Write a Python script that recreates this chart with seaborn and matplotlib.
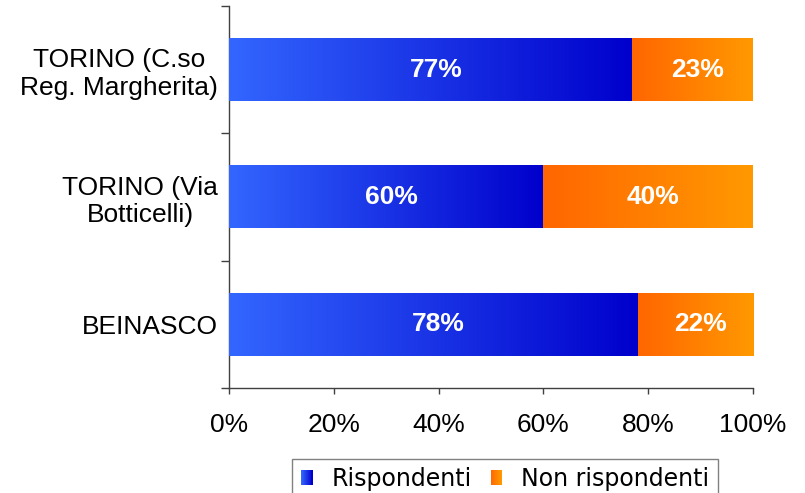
import numpy as np
import pandas as pd
import matplotlib
matplotlib.use("Agg")
import matplotlib.pyplot as plt
import seaborn as sns
from matplotlib.colors import LinearSegmentedColormap
from matplotlib.legend_handler import HandlerBase
from matplotlib.patches import Rectangle

# ---- data ----
luoghi = ["TORINO (C.so\nReg. Margherita)", "TORINO (Via\nBotticelli)", "BEINASCO"]
rispondenti = [77, 60, 78]
non_rispondenti = [23, 40, 22]
serie = ["Rispondenti", "Non rispondenti"]
xticks = [0, 20, 40, 60, 80, 100]
xticklabels = ["0%", "20%", "40%", "60%", "80%", "100%"]

# ---- styles ----
blue0, blue1 = "#3366FF", "#0000CC"
orange0, orange1 = "#FF6600", "#FF9900"
cmap_blue = LinearSegmentedColormap.from_list("b", [blue0, blue1])
cmap_orange = LinearSegmentedColormap.from_list("o", [orange0, orange1])

sns.set_theme(style="white")
plt.rcParams["font.family"] = ["Liberation Sans", "DejaVu Sans"]
plt.rcParams["text.color"] = "black"
plt.rcParams["xtick.labelcolor"] = "black"
plt.rcParams["ytick.labelcolor"] = "black"
FS = 19

df = pd.DataFrame({"luogo": luoghi, "risp": rispondenti, "non": non_rispondenti})
df["totale"] = df["risp"] + df["non"]

fig = plt.figure(figsize=(8.05, 4.93), dpi=100)
ax = fig.add_axes([229 / 805, 105 / 493, 524 / 805, 382 / 493])

sns.barplot(data=df, y="luogo", x="totale", color=orange1, width=0.49,
            orient="h", ax=ax, saturation=1)
n0 = len(ax.patches)
sns.barplot(data=df, y="luogo", x="risp", color=blue1, width=0.49,
            orient="h", ax=ax, saturation=1)

orange_patches = ax.patches[:n0]
blue_patches = ax.patches[n0:]
grad = np.linspace(0, 1, 256).reshape(1, -1)
for po, pb in zip(orange_patches, blue_patches):
    bx0, by0 = pb.get_x(), pb.get_y()
    bw, bh = pb.get_width(), pb.get_height()
    ox1 = po.get_x() + po.get_width()
    ax.imshow(grad, cmap=cmap_blue, aspect="auto", interpolation="bilinear",
              extent=(bx0, bx0 + bw, by0 + bh, by0), zorder=3)
    ax.imshow(grad, cmap=cmap_orange, aspect="auto", interpolation="bilinear",
              extent=(bx0 + bw, ox1, by0 + bh, by0), zorder=3)
    yc = by0 + bh / 2
    ax.text(bx0 + bw / 2 + 1, yc, f"{bw:.0f}%", ha="center", va="center",
            color="white", fontsize=FS, fontweight="bold", zorder=4)
    ax.text((bx0 + bw + ox1) / 2 + 1, yc, f"{ox1 - bx0 - bw:.0f}%", ha="center",
            va="center", color="white", fontsize=FS, fontweight="bold", zorder=4)

ax.set_xlim(0, 100)
ax.set_ylim(2.5, -0.5)
ax.set_xlabel("")
ax.set_ylabel("")
ax.set_xticks(xticks)
ax.set_xticklabels(xticklabels, fontsize=FS)
ax.set_yticks(range(len(luoghi)))
ax.set_yticklabels(luoghi, fontsize=FS, multialignment="center")
ax.set_yticks([-0.5, 0.5, 1.5, 2.5], minor=True)
ax.tick_params(axis="y", which="major", length=0, pad=8)
ax.tick_params(axis="y", which="minor", length=6, width=1, color="#404040",
               direction="out", left=True)
ax.tick_params(axis="x", which="major", length=4, width=1, color="#404040",
               direction="out", bottom=True, pad=14)
for s in ["top", "right"]:
    ax.spines[s].set_visible(False)
for s in ["left", "bottom"]:
    ax.spines[s].set_color("#404040")
    ax.spines[s].set_linewidth(1)
ax.grid(False)


class GradHandler(HandlerBase):
    def __init__(self, cmap):
        super().__init__()
        self.cmap = cmap

    def create_artists(self, legend, orig_handle, xdescent, ydescent, width,
                       height, fontsize, trans):
        n = 12
        arts = []
        for i in range(n):
            r = Rectangle((-xdescent + width * i / n, -ydescent), width / n + 0.05,
                          height, facecolor=self.cmap(i / (n - 1)),
                          edgecolor="none", transform=trans)
            arts.append(r)
        return arts


h1 = Rectangle((0, 0), 1, 1)
h2 = Rectangle((0, 0), 1, 1)
leg = fig.legend([h1, h2], serie, loc="upper center",
                 bbox_to_anchor=(505 / 805, 1 - 459 / 493), ncol=2,
                 handler_map={h1: GradHandler(cmap_blue), h2: GradHandler(cmap_orange)},
                 prop={"family": ["DejaVu Sans"], "size": 17},
                 handlelength=0.5, handleheight=0.6, handletextpad=0.8,
                 columnspacing=0.8, borderpad=0.35, borderaxespad=0,
                 frameon=True, fancybox=False, framealpha=1)
leg.get_frame().set_edgecolor("#808080")
leg.get_frame().set_linewidth(1)

fig.savefig("out.png", dpi=100)
